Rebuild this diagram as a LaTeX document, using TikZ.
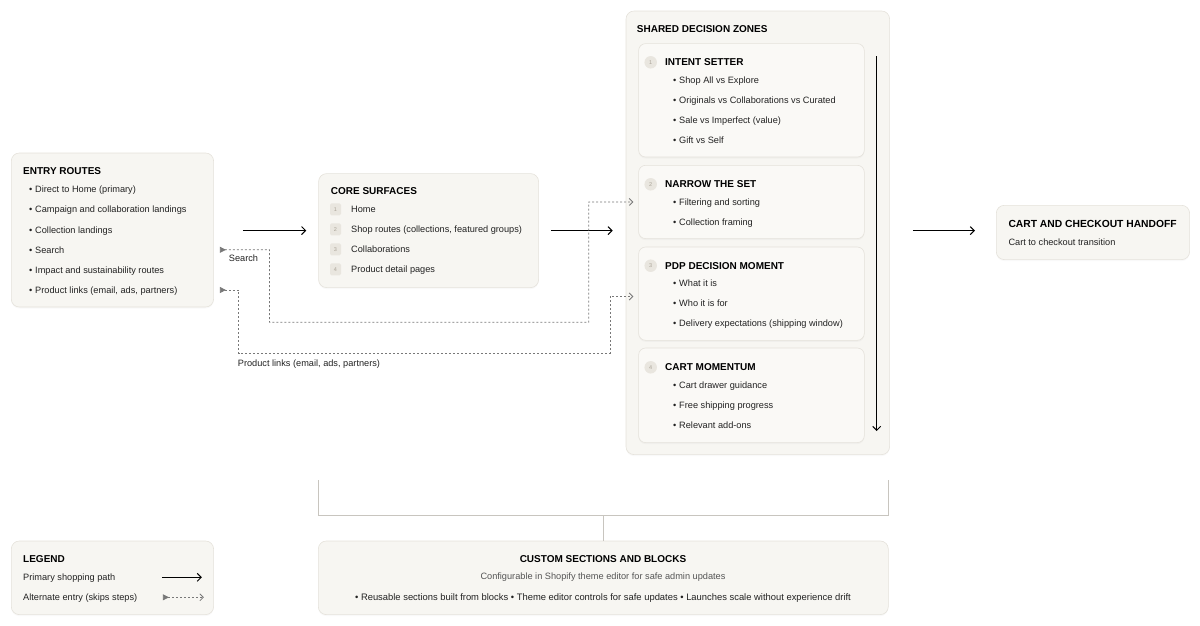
\documentclass[tikz,border=0pt]{standalone}
\usepackage{fontspec}
\setmainfont{Liberation Sans}
\usetikzlibrary{positioning,calc,arrows.meta,shadows}
\definecolor{myfill}{RGB}{247,246,242}
\definecolor{myinner}{RGB}{250,249,246}
\definecolor{myline}{RGB}{229,226,219}
\definecolor{mybadge}{RGB}{233,230,223}
\definecolor{mydigit}{RGB}{170,164,152}
\definecolor{mytext}{RGB}{34,34,34}
\definecolor{mysub}{RGB}{85,85,85}
\definecolor{mydash}{RGB}{120,120,120}
\definecolor{mybracket}{RGB}{200,197,191}
\newcommand\panel[6][panelbox]{
  \node[#1,minimum width=#5pt,minimum height=#6pt] (#2) at (#3,#4) {};
}
\newcommand\zonetext[5]{
  \node[dot] (#1N) at (650.7,-#3) {#2};
  \node[head] (#1T) at (665,-#3) {#4};
  \foreach \t [count=\i] in {#5}
    \node[item] (#1\i) at (672.8,{-#3-17.7-20*(\i-1)}) {•\hspace{3pt}\t};
}

\begin{document}
\begin{tikzpicture}[x=1pt,y=1pt,
    panelbox/.style={
      draw=myline,
      fill=myfill,
      line width=0.6pt,
      rounded corners=8pt,
      anchor=north west,
      inner sep=0pt,
      drop shadow={opacity=0.05,shadow xshift=0pt,shadow yshift=-1.5pt}},
    zonebox/.style={panelbox,fill=myinner,rounded corners=7pt},
    head/.style={
      font={\bfseries\fontsize{10}{12}\selectfont},
      text=black,
      inner sep=0pt,
      anchor=west,
      text height=7.2pt,
      text depth=0pt},
    item/.style={
      font={\fontsize{9.2}{11}\selectfont},
      text=mytext,
      inner sep=0pt,
      anchor=west,
      text height=6.6pt,
      text depth=0pt},
    badge/.style={
      fill=mybadge,
      rounded corners=1.5pt,
      minimum width=11pt,
      minimum height=12pt,
      inner sep=0pt,
      font={\fontsize{5.5}{6}\selectfont},
      text=mydigit},
    dot/.style={badge,circle,minimum size=12.5pt},
    flow/.style={-{Straight Barb[length=4pt,width=8pt]},line width=1pt},
    alt/.style={
      {Triangle[reversed,length=6pt,width=6pt]}-{Straight Barb[length=3.5pt,width=7pt]},
      draw=mydash,
      dash pattern=on 2pt off 2pt,
      line width=0.8pt},
    tie/.style={draw=mybracket,line width=0.8pt},
    ]
    \useasboundingbox (0,0) rectangle (1200,-625);
    % entry routes
    \panel{entry}{11}{-152.7}{202.3}{154}
    \node[head] (entryT) at (23,-171) {ENTRY ROUTES};
    \foreach \t [count=\i] in {Direct to Home (primary), Campaign and collaboration landings,
        Collection landings, Search, Impact and sustainability routes,
        {Product links (email, ads, partners)}}
      \node[item] (e\i) at (28.8,{-189.5-20.1*(\i-1)}) {•\hspace{3pt}\t};
    % core surfaces
    \panel{core}{318.3}{-173.3}{220}{114}
    \node[head] (coreT) at (330.7,-191) {CORE SURFACES};
    \foreach \t [count=\i] in {Home, {Shop routes (collections, featured groups)},
        Collaborations, Product detail pages}{
      \node[badge] (c\i) at (335.5,{-209.3-20*(\i-1)}) {\i};
      \node[item] (s\i) at (351,{-209.3-20*(\i-1)}) {\t};
    }
    % shared decision zones
    \panel{zones}{625.7}{-10.7}{263.6}{443.6}
    \node[head] (zonesT) at (636.7,-29) {SHARED DECISION ZONES};
    \panel[zonebox]{intent}{638.3}{-43.3}{225.7}{113.4}
    \zonetext{intent}{1}{62.3}{INTENT SETTER}{Shop All vs Explore,
      Originals vs Collaborations vs Curated, Sale vs Imperfect (value), Gift vs Self}
    \panel[zonebox]{narrow}{638.3}{-165}{225.7}{73.3}
    \zonetext{narrow}{2}{184.3}{NARROW THE SET}{Filtering and sorting, Collection framing}
    \panel[zonebox]{pdp}{638.3}{-246.7}{225.7}{93.3}
    \zonetext{pdp}{3}{265.7}{PDP DECISION MOMENT}{What it is, Who it is for,
      Delivery expectations (shipping window)}
    \panel[zonebox]{cartm}{638.3}{-347.7}{225.7}{94.6}
    \zonetext{cartm}{4}{367.3}{CART MOMENTUM}{Cart drawer guidance,
      Free shipping progress, Relevant add-ons}
    \coordinate (flowtop) at (876.7,-56);
    \coordinate (flowend) at (876.7,-431);
    \draw[flow] (flowtop) -- (flowend);
    % handoff
    \panel{cart}{996}{-205}{193.3}{54.3}
    \node[head,font={\bfseries\fontsize{10.3}{12}\selectfont}] (cartT) at (1008.3,-223.7) {CART AND CHECKOUT HANDOFF};
    \node[item] (cartS) at (1008.3,-242) {Cart to checkout transition};
    % primary path
    \draw[flow] ([xshift=29pt]entry.east |- core.west) -- ([xshift=-12pt]core.west);
    \draw[flow] ([xshift=12pt]core.east) -- ([xshift=-13pt]zones.west |- core.east);
    \draw[flow] ([xshift=23pt]zones.east |- core.east) -- ([xshift=-21pt]cart.west |- core.east);
    % alternate entries
    \draw[alt] ([xshift=6pt]entry.east |- e4) -| (269.5,-322.3) -| (588.7,-202) -- ([xshift=-5pt]narrow.west);
    \node[item] (searchL) at (228.7,-257.7) {Search};
    \draw[alt] ([xshift=6pt]entry.east |- e6) -| (238.5,-353.5) -| (610,-296.5) -- ([xshift=-5pt]pdp.west |- 0,-296.5);
    \node[item] (linksL) at (237.7,-362.7) {Product links (email, ads, partners)};
    % custom sections
    \panel{custom}{318}{-540.7}{570}{73.6}
    \node[head,anchor=center] (customT) at (603,-559.3) {CUSTOM SECTIONS AND BLOCKS};
    \node[item,anchor=center,text=mysub] (customS) at (603,-576) {Configurable in Shopify theme editor for safe admin updates};
    \node[item,anchor=center,font={\fontsize{9.4}{11}\selectfont}] (customB) at (603,-597.3) {• Reusable sections built from blocks • Theme editor controls for safe updates • Launches scale without experience drift};
    \draw[tie] (core.west |- 0,-480) -- (core.west |- 0,-515) -| (888,-480);
    \draw[tie] (custom.north |- 0,-515) -- (custom.north);
    % legend
    \panel{legend}{11}{-540.7}{202.3}{73.6}
    \node[head] (legendT) at (23,-559.3) {LEGEND};
    \node[item] (l1) at (23,-577.3) {Primary shopping path};
    \node[item] (l2) at (23,-597.3) {Alternate entry (skips steps)};
    \draw[flow] ([xshift=-52pt]legend.east |- l1) -- ([xshift=-12pt]legend.east |- l1);
    \draw[alt] ([xshift=-51pt]legend.east |- l2) -- ([xshift=-10pt]legend.east |- l2);
\end{tikzpicture}
\end{document}
